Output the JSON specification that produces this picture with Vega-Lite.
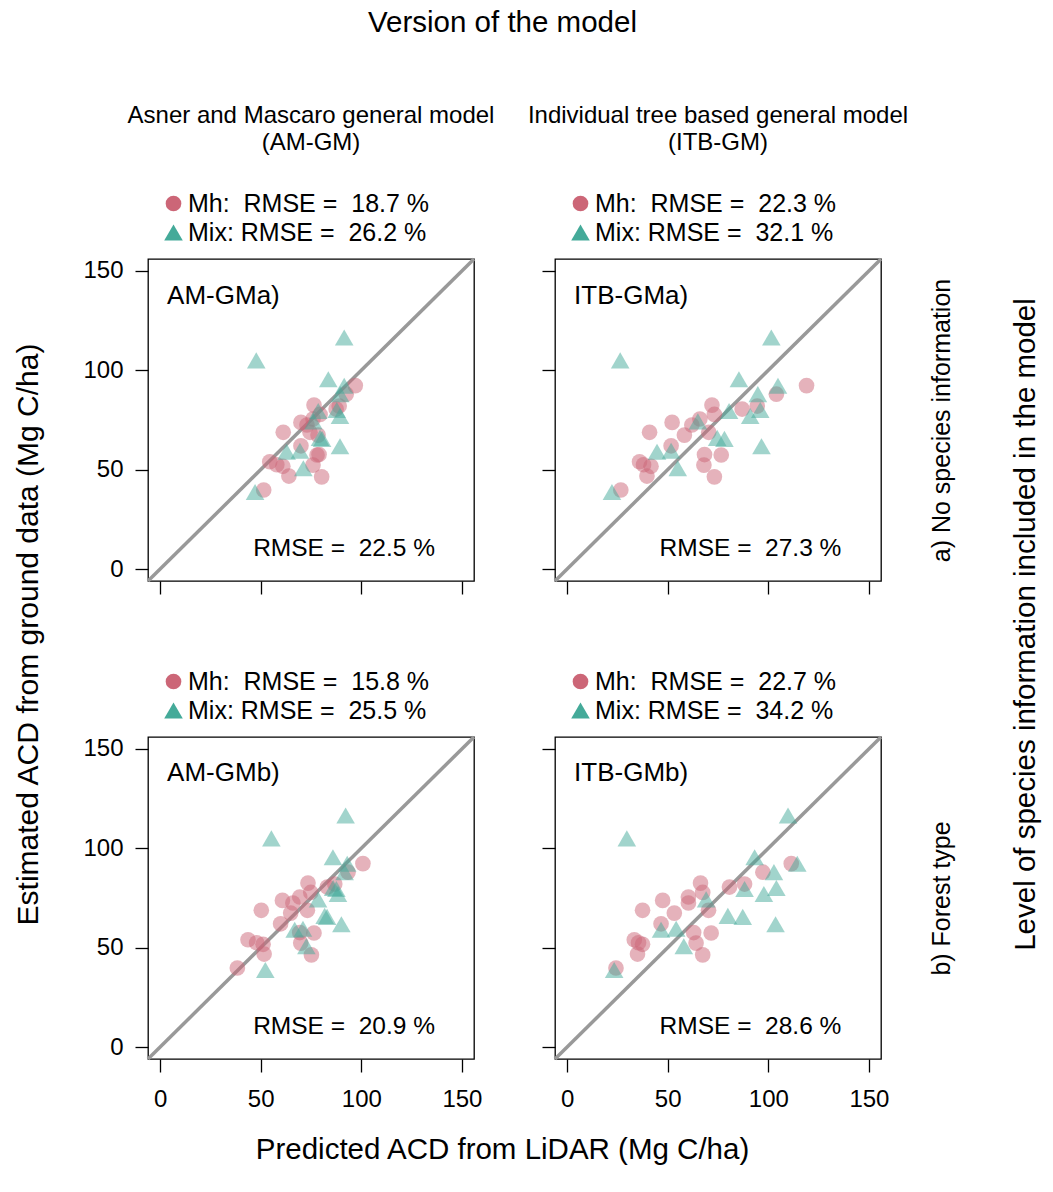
{
  "$schema": "https://vega.github.io/schema/vega-lite/v6.json",
  "padding": {"left": 14, "top": 7, "right": 5, "bottom": 5},
  "background": "white",
  "config": {
    "font": "Liberation Sans",
    "view": {"stroke": "black", "strokeWidth": 1.3},
    "axis": {"grid": false, "domain": false, "tickColor": "black", "tickWidth": 1.3, "tickSize": 13, "labelFontSize": 24, "labelFont": "Liberation Sans", "labelColor": "black", "labelFlush": false, "labelOverlap": false},
    "legend": {"labelFontSize": 25, "labelFont": "Liberation Sans", "labelColor": "black", "labelLimit": 600, "symbolSize": 140, "symbolStrokeWidth": 0, "rowPadding": 3, "padding": 13, "offset": 0, "labelOffset": 2},
    "title": {"fontSize": 24, "fontWeight": "normal", "color": "black", "font": "Liberation Sans"}
  },
  "datasets": {
    "amgma": [
      {"g": "Mh", "x": 97, "y": 92.3}, {"g": "Mh", "x": 92.5, "y": 88}, {"g": "Mh", "x": 89, "y": 82}, {"g": "Mh", "x": 87.5, "y": 80.5},
      {"g": "Mh", "x": 76.5, "y": 82.5}, {"g": "Mh", "x": 79.5, "y": 77.8}, {"g": "Mh", "x": 76, "y": 75.5}, {"g": "Mh", "x": 70, "y": 73.8},
      {"g": "Mh", "x": 74.5, "y": 68.8}, {"g": "Mh", "x": 61.2, "y": 68.8}, {"g": "Mh", "x": 78.5, "y": 67.4}, {"g": "Mh", "x": 70, "y": 62},
      {"g": "Mh", "x": 78, "y": 57.4}, {"g": "Mh", "x": 79, "y": 57.6}, {"g": "Mh", "x": 76, "y": 52.3}, {"g": "Mh", "x": 54.5, "y": 54},
      {"g": "Mh", "x": 61, "y": 51.7}, {"g": "Mh", "x": 64, "y": 46.8}, {"g": "Mh", "x": 80.3, "y": 46.4}, {"g": "Mh", "x": 51.5, "y": 39.8},
      {"g": "Mh", "x": 58, "y": 52.5}, {"g": "Mh", "x": 73, "y": 72.5},
      {"g": "Mix", "x": 91.5, "y": 116.5}, {"g": "Mix", "x": 47.8, "y": 105}, {"g": "Mix", "x": 83.6, "y": 95.5}, {"g": "Mix", "x": 91.5, "y": 92.2},
      {"g": "Mix", "x": 89.5, "y": 88}, {"g": "Mix", "x": 87.8, "y": 80}, {"g": "Mix", "x": 78.6, "y": 79.5}, {"g": "Mix", "x": 89.4, "y": 77},
      {"g": "Mix", "x": 76.2, "y": 74.3}, {"g": "Mix", "x": 79.5, "y": 66}, {"g": "Mix", "x": 80.5, "y": 65.5}, {"g": "Mix", "x": 89.4, "y": 61.8},
      {"g": "Mix", "x": 69.5, "y": 59.5}, {"g": "Mix", "x": 62.9, "y": 59}, {"g": "Mix", "x": 71.2, "y": 50.7}, {"g": "Mix", "x": 47.2, "y": 38.8}
    ],
    "itbgma": [
      {"g": "Mh", "x": 119, "y": 92.3}, {"g": "Mh", "x": 104, "y": 88}, {"g": "Mh", "x": 94.5, "y": 82}, {"g": "Mh", "x": 87, "y": 80.5},
      {"g": "Mh", "x": 72, "y": 82.5}, {"g": "Mh", "x": 73.2, "y": 77.8}, {"g": "Mh", "x": 66, "y": 75.5}, {"g": "Mh", "x": 52.2, "y": 73.8},
      {"g": "Mh", "x": 70.4, "y": 68.8}, {"g": "Mh", "x": 41, "y": 68.8}, {"g": "Mh", "x": 58.3, "y": 67.4}, {"g": "Mh", "x": 51.7, "y": 62},
      {"g": "Mh", "x": 76.6, "y": 57.4}, {"g": "Mh", "x": 68.3, "y": 57.6}, {"g": "Mh", "x": 68, "y": 52.3}, {"g": "Mh", "x": 36, "y": 54},
      {"g": "Mh", "x": 41.7, "y": 51.7}, {"g": "Mh", "x": 39.7, "y": 46.8}, {"g": "Mh", "x": 73.2, "y": 46.4}, {"g": "Mh", "x": 26.7, "y": 39.8},
      {"g": "Mh", "x": 38, "y": 52.5}, {"g": "Mh", "x": 62, "y": 72.5},
      {"g": "Mix", "x": 101.5, "y": 116.5}, {"g": "Mix", "x": 26.4, "y": 105}, {"g": "Mix", "x": 85.4, "y": 95.5}, {"g": "Mix", "x": 104.8, "y": 92.2},
      {"g": "Mix", "x": 94.8, "y": 88}, {"g": "Mix", "x": 96, "y": 80}, {"g": "Mix", "x": 80.5, "y": 79.5}, {"g": "Mix", "x": 91, "y": 77},
      {"g": "Mix", "x": 65, "y": 74.3}, {"g": "Mix", "x": 74.6, "y": 66}, {"g": "Mix", "x": 78.2, "y": 65.5}, {"g": "Mix", "x": 96.6, "y": 61.8},
      {"g": "Mix", "x": 51.7, "y": 59.5}, {"g": "Mix", "x": 44.7, "y": 59}, {"g": "Mix", "x": 55, "y": 50.7}, {"g": "Mix", "x": 22.3, "y": 38.8}
    ],
    "amgmb": [
      {"g": "Mh", "x": 100.8, "y": 92.3}, {"g": "Mh", "x": 93.4, "y": 88}, {"g": "Mh", "x": 86.8, "y": 82}, {"g": "Mh", "x": 83.1, "y": 80.5},
      {"g": "Mh", "x": 73.5, "y": 82.5}, {"g": "Mh", "x": 74.9, "y": 77.8}, {"g": "Mh", "x": 69.4, "y": 75.5}, {"g": "Mh", "x": 60.8, "y": 73.8},
      {"g": "Mh", "x": 73.2, "y": 68.8}, {"g": "Mh", "x": 50.3, "y": 68.8}, {"g": "Mh", "x": 64.9, "y": 67.4}, {"g": "Mh", "x": 59.9, "y": 62},
      {"g": "Mh", "x": 76.5, "y": 57.4}, {"g": "Mh", "x": 69.4, "y": 57.6}, {"g": "Mh", "x": 69.9, "y": 52.3}, {"g": "Mh", "x": 43.7, "y": 54},
      {"g": "Mh", "x": 51.2, "y": 51.7}, {"g": "Mh", "x": 51.7, "y": 46.8}, {"g": "Mh", "x": 75.2, "y": 46.4}, {"g": "Mh", "x": 38.4, "y": 39.8},
      {"g": "Mh", "x": 48, "y": 52.5}, {"g": "Mh", "x": 66, "y": 72.5},
      {"g": "Mix", "x": 92.2, "y": 116.5}, {"g": "Mix", "x": 55.3, "y": 105}, {"g": "Mix", "x": 85.9, "y": 95.5}, {"g": "Mix", "x": 93, "y": 92.2},
      {"g": "Mix", "x": 91.7, "y": 88}, {"g": "Mix", "x": 86, "y": 80}, {"g": "Mix", "x": 87.6, "y": 79.5}, {"g": "Mix", "x": 88.4, "y": 77},
      {"g": "Mix", "x": 78.5, "y": 74.3}, {"g": "Mix", "x": 81.8, "y": 66}, {"g": "Mix", "x": 83, "y": 65.5}, {"g": "Mix", "x": 90.1, "y": 61.8},
      {"g": "Mix", "x": 71, "y": 59.5}, {"g": "Mix", "x": 66.9, "y": 59}, {"g": "Mix", "x": 72.7, "y": 50.7}, {"g": "Mix", "x": 52.3, "y": 38.8}
    ],
    "itbgmb": [
      {"g": "Mh", "x": 111.4, "y": 92.3}, {"g": "Mh", "x": 97.3, "y": 88}, {"g": "Mh", "x": 88.2, "y": 82}, {"g": "Mh", "x": 80.7, "y": 80.5},
      {"g": "Mh", "x": 66.3, "y": 82.5}, {"g": "Mh", "x": 67.4, "y": 77.8}, {"g": "Mh", "x": 60.3, "y": 75.5}, {"g": "Mh", "x": 47.5, "y": 73.8},
      {"g": "Mh", "x": 70.3, "y": 68.8}, {"g": "Mh", "x": 37.5, "y": 68.8}, {"g": "Mh", "x": 53.3, "y": 67.4}, {"g": "Mh", "x": 46.7, "y": 62},
      {"g": "Mh", "x": 71.6, "y": 57.4}, {"g": "Mh", "x": 62.9, "y": 57.6}, {"g": "Mh", "x": 64.1, "y": 52.3}, {"g": "Mh", "x": 33.4, "y": 54},
      {"g": "Mh", "x": 37.5, "y": 51.7}, {"g": "Mh", "x": 35, "y": 46.8}, {"g": "Mh", "x": 67.4, "y": 46.4}, {"g": "Mh", "x": 24.3, "y": 39.8},
      {"g": "Mh", "x": 35.5, "y": 52.5}, {"g": "Mh", "x": 60.3, "y": 72.5},
      {"g": "Mix", "x": 109.8, "y": 116.5}, {"g": "Mix", "x": 29.7, "y": 105}, {"g": "Mix", "x": 93.2, "y": 95.5}, {"g": "Mix", "x": 114.4, "y": 92.2},
      {"g": "Mix", "x": 102.8, "y": 88}, {"g": "Mix", "x": 104, "y": 80}, {"g": "Mix", "x": 88.2, "y": 79.5}, {"g": "Mix", "x": 97.8, "y": 77},
      {"g": "Mix", "x": 69.1, "y": 74.3}, {"g": "Mix", "x": 79.9, "y": 66}, {"g": "Mix", "x": 87.3, "y": 65.5}, {"g": "Mix", "x": 103.6, "y": 61.8},
      {"g": "Mix", "x": 54.2, "y": 59.5}, {"g": "Mix", "x": 46.7, "y": 59}, {"g": "Mix", "x": 58, "y": 50.7}, {"g": "Mix", "x": 23.4, "y": 38.8}
    ]
  },
  "title": {"text": "Version of the model", "fontSize": 29.5, "offset": 65, "anchor": "middle", "dx": -25},
  "vconcat": [{
    "title": {"text": "Predicted ACD from LiDAR (Mg C/ha)", "orient": "bottom", "fontSize": 29.5, "offset": 24, "anchor": "middle", "dx": -25},
    "vconcat": [{
      "title": {"text": "Estimated ACD from ground data (Mg C/ha)", "orient": "left", "fontSize": 30, "offset": 38, "anchor": "middle", "dx": -27},
      "vconcat": [{
        "title": {"text": "Level of species information included in the model", "orient": "right", "fontSize": 29.5, "offset": 28, "angle": -90, "baseline": "top", "anchor": "middle", "dx": -17},
        "columns": 2,
        "bounds": "flush",
        "spacing": {"row": 156, "column": 81},
        "resolve": {"scale": {"color": "independent", "shape": "independent", "size": "independent"}, "legend": {"color": "independent", "shape": "independent"}},
        "concat": [
          {
            "width": 326, "height": 322,
            "title": {"text": ["Asner and Mascaro general model", "(AM-GM)"], "lineHeight": 27, "frame": "group", "anchor": "middle", "offset": 23},
            "data": {"name": "amgma"},
            "layer": [
              {"data": {"values": [{}]}, "mark": {"type": "rule", "color": "#999999", "strokeWidth": 3.5},
               "encoding": {
                 "x": {"datum": -6, "type": "quantitative", "scale": {"domain": [-6, 156], "nice": false, "zero": false}, "axis": {"values": [0, 50, 100, 150], "labels": false, "title": null, "orient": "bottom"}},
                 "y": {"datum": -6, "type": "quantitative", "scale": {"domain": [-6, 156], "nice": false, "zero": false}, "axis": {"values": [0, 50, 100, 150], "title": null, "labelPadding": 12, "orient": "left"}},
                 "x2": {"datum": 156}, "y2": {"datum": 156}}},
              {"mark": {"type": "point", "filled": true, "opacity": 0.5, "strokeWidth": 0},
               "encoding": {
                 "x": {"field": "x", "type": "quantitative", "scale": {"domain": [-6, 156], "nice": false, "zero": false}, "axis": {"values": [0, 50, 100, 150], "labels": false, "title": null, "orient": "bottom"}},
                 "y": {"field": "y", "type": "quantitative", "scale": {"domain": [-6, 156], "nice": false, "zero": false}, "axis": {"values": [0, 50, 100, 150], "title": null, "labelPadding": 12, "orient": "left"}},
                 "color": {"field": "g", "type": "nominal", "scale": {"domain": ["Mh", "Mix"], "range": ["#CC6677", "#44AA99"]}, "legend": {"title": null, "orient": "top", "direction": "vertical", "symbolOpacity": 1, "symbolSize": 140, "labelExpr": "datum.label == 'Mh' ? 'Mh:\u00a0 RMSE =\u00a0 18.7 %' : 'Mix: RMSE =\u00a0 26.2 %'"}},
                 "shape": {"field": "g", "type": "nominal", "scale": {"domain": ["Mh", "Mix"], "range": ["circle", "triangle-up"]}, "legend": {"title": null, "orient": "top", "direction": "vertical", "symbolOpacity": 1, "symbolSize": 140, "labelExpr": "datum.label == 'Mh' ? 'Mh:\u00a0 RMSE =\u00a0 18.7 %' : 'Mix: RMSE =\u00a0 26.2 %'"}},
                 "size": {"field": "g", "type": "ordinal", "scale": {"domain": ["Mh", "Mix"], "range": [245, 345]}, "legend": null}}},
              {"data": {"values": [{"label": "AM-GMa)"}]}, "mark": {"type": "text", "align": "left", "baseline": "middle", "fontSize": 26, "color": "black"},
               "encoding": {
                 "x": {"datum": 3.5, "type": "quantitative", "scale": {"domain": [-6, 156], "nice": false, "zero": false}, "axis": {"values": [0, 50, 100, 150], "labels": false, "title": null, "orient": "bottom"}},
                 "y": {"datum": 137.4, "type": "quantitative", "scale": {"domain": [-6, 156], "nice": false, "zero": false}, "axis": {"values": [0, 50, 100, 150], "title": null, "labelPadding": 12, "orient": "left"}},
                 "text": {"field": "label"}}},
              {"data": {"values": [{"label": "RMSE =\u00a0 22.5 %"}]}, "mark": {"type": "text", "align": "right", "baseline": "middle", "fontSize": 24.5, "color": "black"},
               "encoding": {
                 "x": {"datum": 136.6, "type": "quantitative", "scale": {"domain": [-6, 156], "nice": false, "zero": false}, "axis": {"values": [0, 50, 100, 150], "labels": false, "title": null, "orient": "bottom"}},
                 "y": {"datum": 10, "type": "quantitative", "scale": {"domain": [-6, 156], "nice": false, "zero": false}, "axis": {"values": [0, 50, 100, 150], "title": null, "labelPadding": 12, "orient": "left"}},
                 "text": {"field": "label"}}}
            ]
          },
          {
            "width": 326, "height": 322,
            "title": {"text": ["Individual tree based general model", "(ITB-GM)"], "lineHeight": 27, "frame": "group", "anchor": "middle", "offset": 23},
            "data": {"name": "itbgma"},
            "layer": [
              {"data": {"values": [{}]}, "mark": {"type": "rule", "color": "#999999", "strokeWidth": 3.5},
               "encoding": {
                 "x": {"datum": -6, "type": "quantitative", "scale": {"domain": [-6, 156], "nice": false, "zero": false}, "axis": {"values": [0, 50, 100, 150], "labels": false, "title": null, "orient": "bottom"}},
                 "y": {"datum": -6, "type": "quantitative", "scale": {"domain": [-6, 156], "nice": false, "zero": false}, "axis": {"orient": "right", "values": [0, 50, 100, 150], "labels": false, "ticks": false, "title": "a) No species information", "titleAngle": -90, "titleBaseline": "top", "titlePadding": 48, "titleFontSize": 25, "titleFontWeight": "normal", "titleColor": "black", "titleFont": "Liberation Sans"}},
                 "x2": {"datum": 156}, "y2": {"datum": 156}}},
              {"mark": {"type": "point", "filled": true, "opacity": 0.5, "strokeWidth": 0},
               "encoding": {
                 "x": {"field": "x", "type": "quantitative", "scale": {"domain": [-6, 156], "nice": false, "zero": false}, "axis": {"values": [0, 50, 100, 150], "labels": false, "title": null, "orient": "bottom"}},
                 "y": {"field": "y", "type": "quantitative", "scale": {"domain": [-6, 156], "nice": false, "zero": false}, "axis": {"values": [0, 50, 100, 150], "labels": false, "title": null, "orient": "left"}},
                 "color": {"field": "g", "type": "nominal", "scale": {"domain": ["Mh", "Mix"], "range": ["#CC6677", "#44AA99"]}, "legend": {"title": null, "orient": "top", "direction": "vertical", "symbolOpacity": 1, "symbolSize": 140, "labelExpr": "datum.label == 'Mh' ? 'Mh:\u00a0 RMSE =\u00a0 22.3 %' : 'Mix: RMSE =\u00a0 32.1 %'"}},
                 "shape": {"field": "g", "type": "nominal", "scale": {"domain": ["Mh", "Mix"], "range": ["circle", "triangle-up"]}, "legend": {"title": null, "orient": "top", "direction": "vertical", "symbolOpacity": 1, "symbolSize": 140, "labelExpr": "datum.label == 'Mh' ? 'Mh:\u00a0 RMSE =\u00a0 22.3 %' : 'Mix: RMSE =\u00a0 32.1 %'"}},
                 "size": {"field": "g", "type": "ordinal", "scale": {"domain": ["Mh", "Mix"], "range": [245, 345]}, "legend": null}}},
              {"data": {"values": [{"label": "ITB-GMa)"}]}, "mark": {"type": "text", "align": "left", "baseline": "middle", "fontSize": 26, "color": "black"},
               "encoding": {
                 "x": {"datum": 3.5, "type": "quantitative", "scale": {"domain": [-6, 156], "nice": false, "zero": false}, "axis": {"values": [0, 50, 100, 150], "labels": false, "title": null, "orient": "bottom"}},
                 "y": {"datum": 137.4, "type": "quantitative", "scale": {"domain": [-6, 156], "nice": false, "zero": false}, "axis": {"values": [0, 50, 100, 150], "labels": false, "ticks": false, "title": null, "orient": "left"}},
                 "text": {"field": "label"}}},
              {"data": {"values": [{"label": "RMSE =\u00a0 27.3 %"}]}, "mark": {"type": "text", "align": "right", "baseline": "middle", "fontSize": 24.5, "color": "black"},
               "encoding": {
                 "x": {"datum": 136.3, "type": "quantitative", "scale": {"domain": [-6, 156], "nice": false, "zero": false}, "axis": {"values": [0, 50, 100, 150], "labels": false, "title": null, "orient": "bottom"}},
                 "y": {"datum": 10, "type": "quantitative", "scale": {"domain": [-6, 156], "nice": false, "zero": false}, "axis": {"values": [0, 50, 100, 150], "labels": false, "ticks": false, "title": null, "orient": "left"}},
                 "text": {"field": "label"}}}
            ]
          },
          {
            "width": 326, "height": 322,
            "data": {"name": "amgmb"},
            "layer": [
              {"data": {"values": [{}]}, "mark": {"type": "rule", "color": "#999999", "strokeWidth": 3.5},
               "encoding": {
                 "x": {"datum": -6, "type": "quantitative", "scale": {"domain": [-6, 156], "nice": false, "zero": false}, "axis": {"values": [0, 50, 100, 150], "title": null, "labelPadding": 15, "orient": "bottom"}},
                 "y": {"datum": -6, "type": "quantitative", "scale": {"domain": [-6, 156], "nice": false, "zero": false}, "axis": {"values": [0, 50, 100, 150], "title": null, "labelPadding": 12, "orient": "left"}},
                 "x2": {"datum": 156}, "y2": {"datum": 156}}},
              {"mark": {"type": "point", "filled": true, "opacity": 0.5, "strokeWidth": 0},
               "encoding": {
                 "x": {"field": "x", "type": "quantitative", "scale": {"domain": [-6, 156], "nice": false, "zero": false}, "axis": {"values": [0, 50, 100, 150], "title": null, "labelPadding": 15, "orient": "bottom"}},
                 "y": {"field": "y", "type": "quantitative", "scale": {"domain": [-6, 156], "nice": false, "zero": false}, "axis": {"values": [0, 50, 100, 150], "title": null, "labelPadding": 12, "orient": "left"}},
                 "color": {"field": "g", "type": "nominal", "scale": {"domain": ["Mh", "Mix"], "range": ["#CC6677", "#44AA99"]}, "legend": {"title": null, "orient": "top", "direction": "vertical", "symbolOpacity": 1, "symbolSize": 140, "labelExpr": "datum.label == 'Mh' ? 'Mh:\u00a0 RMSE =\u00a0 15.8 %' : 'Mix: RMSE =\u00a0 25.5 %'"}},
                 "shape": {"field": "g", "type": "nominal", "scale": {"domain": ["Mh", "Mix"], "range": ["circle", "triangle-up"]}, "legend": {"title": null, "orient": "top", "direction": "vertical", "symbolOpacity": 1, "symbolSize": 140, "labelExpr": "datum.label == 'Mh' ? 'Mh:\u00a0 RMSE =\u00a0 15.8 %' : 'Mix: RMSE =\u00a0 25.5 %'"}},
                 "size": {"field": "g", "type": "ordinal", "scale": {"domain": ["Mh", "Mix"], "range": [245, 345]}, "legend": null}}},
              {"data": {"values": [{"label": "AM-GMb)"}]}, "mark": {"type": "text", "align": "left", "baseline": "middle", "fontSize": 26, "color": "black"},
               "encoding": {
                 "x": {"datum": 3.5, "type": "quantitative", "scale": {"domain": [-6, 156], "nice": false, "zero": false}, "axis": {"values": [0, 50, 100, 150], "title": null, "labelPadding": 15, "orient": "bottom"}},
                 "y": {"datum": 137.9, "type": "quantitative", "scale": {"domain": [-6, 156], "nice": false, "zero": false}, "axis": {"values": [0, 50, 100, 150], "title": null, "labelPadding": 12, "orient": "left"}},
                 "text": {"field": "label"}}},
              {"data": {"values": [{"label": "RMSE =\u00a0 20.9 %"}]}, "mark": {"type": "text", "align": "right", "baseline": "middle", "fontSize": 24.5, "color": "black"},
               "encoding": {
                 "x": {"datum": 136.6, "type": "quantitative", "scale": {"domain": [-6, 156], "nice": false, "zero": false}, "axis": {"values": [0, 50, 100, 150], "title": null, "labelPadding": 15, "orient": "bottom"}},
                 "y": {"datum": 10, "type": "quantitative", "scale": {"domain": [-6, 156], "nice": false, "zero": false}, "axis": {"values": [0, 50, 100, 150], "title": null, "labelPadding": 12, "orient": "left"}},
                 "text": {"field": "label"}}}
            ]
          },
          {
            "width": 326, "height": 322,
            "data": {"name": "itbgmb"},
            "layer": [
              {"data": {"values": [{}]}, "mark": {"type": "rule", "color": "#999999", "strokeWidth": 3.5},
               "encoding": {
                 "x": {"datum": -6, "type": "quantitative", "scale": {"domain": [-6, 156], "nice": false, "zero": false}, "axis": {"values": [0, 50, 100, 150], "title": null, "labelPadding": 15, "orient": "bottom"}},
                 "y": {"datum": -6, "type": "quantitative", "scale": {"domain": [-6, 156], "nice": false, "zero": false}, "axis": {"orient": "right", "values": [0, 50, 100, 150], "labels": false, "ticks": false, "title": "b) Forest type", "titleAngle": -90, "titleBaseline": "top", "titlePadding": 48, "titleFontSize": 25, "titleFontWeight": "normal", "titleColor": "black", "titleFont": "Liberation Sans"}},
                 "x2": {"datum": 156}, "y2": {"datum": 156}}},
              {"mark": {"type": "point", "filled": true, "opacity": 0.5, "strokeWidth": 0},
               "encoding": {
                 "x": {"field": "x", "type": "quantitative", "scale": {"domain": [-6, 156], "nice": false, "zero": false}, "axis": {"values": [0, 50, 100, 150], "title": null, "labelPadding": 15, "orient": "bottom"}},
                 "y": {"field": "y", "type": "quantitative", "scale": {"domain": [-6, 156], "nice": false, "zero": false}, "axis": {"values": [0, 50, 100, 150], "labels": false, "title": null, "orient": "left"}},
                 "color": {"field": "g", "type": "nominal", "scale": {"domain": ["Mh", "Mix"], "range": ["#CC6677", "#44AA99"]}, "legend": {"title": null, "orient": "top", "direction": "vertical", "symbolOpacity": 1, "symbolSize": 140, "labelExpr": "datum.label == 'Mh' ? 'Mh:\u00a0 RMSE =\u00a0 22.7 %' : 'Mix: RMSE =\u00a0 34.2 %'"}},
                 "shape": {"field": "g", "type": "nominal", "scale": {"domain": ["Mh", "Mix"], "range": ["circle", "triangle-up"]}, "legend": {"title": null, "orient": "top", "direction": "vertical", "symbolOpacity": 1, "symbolSize": 140, "labelExpr": "datum.label == 'Mh' ? 'Mh:\u00a0 RMSE =\u00a0 22.7 %' : 'Mix: RMSE =\u00a0 34.2 %'"}},
                 "size": {"field": "g", "type": "ordinal", "scale": {"domain": ["Mh", "Mix"], "range": [245, 345]}, "legend": null}}},
              {"data": {"values": [{"label": "ITB-GMb)"}]}, "mark": {"type": "text", "align": "left", "baseline": "middle", "fontSize": 26, "color": "black"},
               "encoding": {
                 "x": {"datum": 3.5, "type": "quantitative", "scale": {"domain": [-6, 156], "nice": false, "zero": false}, "axis": {"values": [0, 50, 100, 150], "title": null, "labelPadding": 15, "orient": "bottom"}},
                 "y": {"datum": 137.9, "type": "quantitative", "scale": {"domain": [-6, 156], "nice": false, "zero": false}, "axis": {"values": [0, 50, 100, 150], "labels": false, "ticks": false, "title": null, "orient": "left"}},
                 "text": {"field": "label"}}},
              {"data": {"values": [{"label": "RMSE =\u00a0 28.6 %"}]}, "mark": {"type": "text", "align": "right", "baseline": "middle", "fontSize": 24.5, "color": "black"},
               "encoding": {
                 "x": {"datum": 136.3, "type": "quantitative", "scale": {"domain": [-6, 156], "nice": false, "zero": false}, "axis": {"values": [0, 50, 100, 150], "title": null, "labelPadding": 15, "orient": "bottom"}},
                 "y": {"datum": 10, "type": "quantitative", "scale": {"domain": [-6, 156], "nice": false, "zero": false}, "axis": {"values": [0, 50, 100, 150], "labels": false, "ticks": false, "title": null, "orient": "left"}},
                 "text": {"field": "label"}}}
            ]
          }
        ]
      }]
    }]
  }]
}
